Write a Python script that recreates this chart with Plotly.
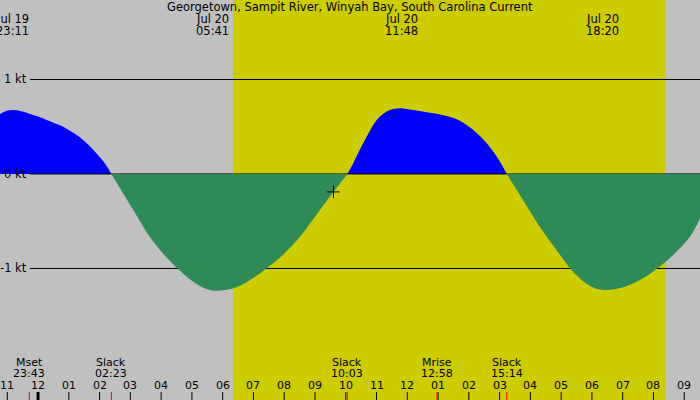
import plotly.graph_objects as go

# ---- data (hours since Jul 19 00:00) ----
times = [22.763, 22.98, 23.195, 23.413, 23.63, 23.845, 24.063, 24.28, 24.495, 24.713, 24.93, 25.145,
         25.362, 25.58, 25.795, 26.01, 26.23, 26.383,
         27.10, 27.64, 28.18, 28.72, 29.26, 29.70, 30.35, 30.89, 31.43, 31.97, 32.51, 33.06, 33.60, 34.05,
         34.245, 34.463, 34.68, 34.895, 35.113, 35.33, 35.545, 35.763, 35.98, 36.413, 36.845, 37.28,
         37.605, 37.93, 38.145, 38.36, 38.58, 38.795, 39.01, 39.233,
         39.77, 40.31, 40.86, 41.40, 41.94, 42.37, 43.02, 43.56, 44.10, 44.64, 45.19, 45.512]
knots = [0.635, 0.67, 0.677, 0.667, 0.649, 0.624, 0.600, 0.571, 0.543, 0.515, 0.479, 0.437,
         0.388, 0.325, 0.254, 0.177, 0.085, 0.0,
         -0.385, -0.67, -0.885, -1.055, -1.185, -1.235, -1.21, -1.122, -0.998, -0.852, -0.665, -0.425, -0.19, 0.0,
         0.113, 0.261, 0.395, 0.519, 0.607, 0.66, 0.688, 0.695, 0.688, 0.667, 0.642, 0.614,
         0.579, 0.519, 0.466, 0.402, 0.325, 0.236, 0.13, 0.0,
         -0.28, -0.56, -0.81, -1.04, -1.185, -1.228, -1.199, -1.122, -1.005, -0.857, -0.663, -0.469]

title = "Georgetown, Sampit River, Winyah Bay, South Carolina Current"
top_times = [23 + 11/60, 29 + 41/60, 35 + 48/60, 42 + 20/60]
top_dates = ["Jul 19", "Jul 20", "Jul 20", "Jul 20"]
top_labels = ["23:11", "05:41", "11:48", "18:20"]

event_times = [23 + 43/60, 26 + 23/60, 34 + 3/60, 36 + 58/60, 39 + 14/60]
event_names = ["Mset", "Slack", "Slack", "Mrise", "Slack"]
event_labels = ["23:43", "02:23", "10:03", "12:58", "15:14"]

hour_times = list(range(23, 46))
hour_labels = ["11", "12", "01", "02", "03", "04", "05", "06", "07", "08", "09", "10",
               "11", "12", "01", "02", "03", "04", "05", "06", "07", "08", "09"]

sunrise, sunset = 30 + 20/60, 44 + 24/60
now_time, now_value = 33.60, -0.19
kt_levels = [1, 0, -1]
kt_labels = ["1 kt", "0 kt", "-1 kt"]

# ---- layout constants ----
X0, X1 = 22.763, 45.512
Y0, Y1 = -2.392, 1.841
FONT = "DejaVu Sans"
FS = 11.5
FS_BOTTOM = 11
GRAY, YELLOW, BLUE, GREEN = "#c0c0c0", "#cccc00", "#0000ff", "#2e8b57"

# split into sign segments
segments = []
cur = [(times[0], knots[0])]
for t, v in zip(times[1:], knots[1:]):
    cur.append((t, v))
    if v == 0.0:
        segments.append(cur)
        cur = [(t, v)]
segments.append(cur)

fig = go.Figure()
line_x0 = X0 + (30 / 700) * (X1 - X0)

pos_segs = [s for s in segments if sum(v for _, v in s) > 0]
neg_segs = [s for s in segments if sum(v for _, v in s) < 0]
for s in pos_segs:
    fig.add_trace(go.Scatter(x=[p[0] for p in s], y=[p[1] for p in s], mode="lines",
                             line=dict(shape="spline", smoothing=1.0, width=0, color=BLUE), fill="tozeroy",
                             fillcolor=BLUE, hoverinfo="skip"))
# zero line between fills
fig.add_trace(go.Scatter(x=[line_x0, X1], y=[0, 0], mode="lines",
                         line=dict(color="black", width=1), hoverinfo="skip"))
for s in neg_segs:
    fig.add_trace(go.Scatter(x=[p[0] for p in s], y=[p[1] for p in s], mode="lines",
                             line=dict(shape="spline", smoothing=1.0, width=0, color=GREEN), fill="tozeroy",
                             fillcolor=GREEN, hoverinfo="skip"))

fig.add_trace(go.Scatter(x=[now_time], y=[now_value], mode="markers",
                         marker=dict(symbol="cross-thin", size=9, line=dict(color="black", width=1)),
                         hoverinfo="skip"))

shapes = [dict(type="rect", xref="x", yref="paper", x0=sunrise, x1=sunset, y0=0, y1=1,
               fillcolor=YELLOW, line=dict(width=0), layer="below")]
for lv in kt_levels:
    if lv != 0:
        shapes.append(dict(type="line", xref="x", yref="y", x0=line_x0, x1=X1, y0=lv, y1=lv,
                           line=dict(color="black", width=1), layer="below"))
for h in hour_times:
    w = 3 if h == 24 else 1
    shapes.append(dict(type="line", xref="x", yref="paper", x0=h, x1=h, y0=0, y1=0.02,
                       line=dict(color="black", width=w)))
for et in event_times:
    shapes.append(dict(type="line", xref="x", yref="paper", x0=et, x1=et, y0=0, y1=0.02,
                       line=dict(color="red", width=1)))

ann = []
def txt(x, ypx, s, xref="x", size=FS):
    ann.append(dict(x=x, y=1 - ypx / 400, xref=xref, yref="paper", text=s, showarrow=False,
                    xanchor="center", yanchor="middle", font=dict(family=FONT, size=size, color="black")))

txt(0.5, 7, title, xref="paper")
for t, d, l in zip(top_times, top_dates, top_labels):
    txt(t, 19, d)
    txt(t, 31, l)
for t, n, l in zip(event_times, event_names, event_labels):
    txt(t, 362, n, size=FS_BOTTOM)
    txt(t, 373, l, size=FS_BOTTOM)
for t, l in zip(hour_times, hour_labels):
    txt(t, 385, l, size=FS_BOTTOM)
for lv, l in zip(kt_levels, kt_labels):
    ann.append(dict(x=29 / 700, y=(lv - Y0) / (Y1 - Y0), xref="paper", yref="paper", text=l,
                    showarrow=False, xanchor="right", yanchor="middle",
                    font=dict(family=FONT, size=FS, color="black")))

fig.update_layout(
    width=700, height=400, margin=dict(l=0, r=0, t=0, b=0),
    paper_bgcolor=GRAY, plot_bgcolor=GRAY, showlegend=False,
    xaxis=dict(range=[X0, X1], visible=False, fixedrange=True),
    yaxis=dict(range=[Y0, Y1], visible=False, fixedrange=True),
    shapes=shapes, annotations=ann,
)
fig.write_html("out.html")
